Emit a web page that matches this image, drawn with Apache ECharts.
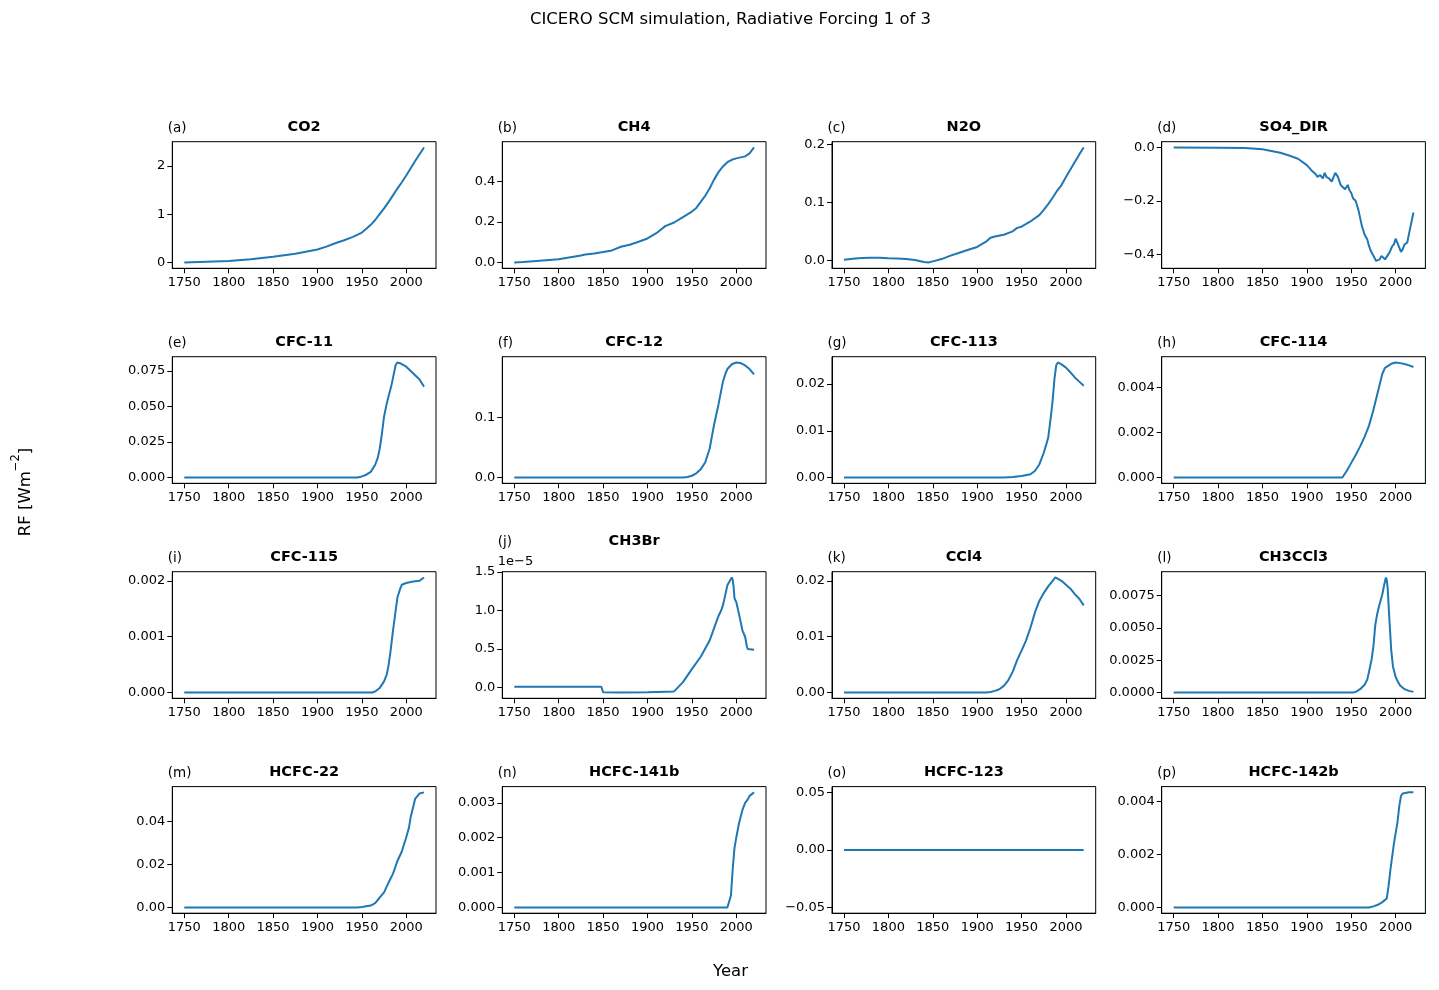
<!DOCTYPE html>
<html><head><meta charset="utf-8">
<script src="https://cdn.jsdelivr.net/npm/echarts@6/dist/echarts.min.js"></script>
<style>html,body{margin:0;padding:0;background:#fff}#c{width:1439px;height:990px}</style>
</head><body><div id="c"></div>
<script>
const SUPTITLE = 'CICERO SCM simulation, Radiative Forcing 1 of 3';
const X_TICKS = [1750, 1800, 1850, 1900, 1950, 2000];

const YEARS_CO2 = [1750,1775,1800,1825,1850,1875,1900,1910,1920,1930,1940,1950,1955,1960,1965,1970,1975,1980,1985,1990,1995,2000,2005,2010,2015,2020];
const RF_CO2 = [0,0.015,0.03,0.07,0.12,0.18,0.27,0.33,0.40,0.46,0.53,0.62,0.70,0.78,0.88,1.0,1.12,1.25,1.39,1.53,1.66,1.80,1.95,2.10,2.24,2.38];

const YEARS_CH4 = [1750,1760,1775,1800,1825,1830,1840,1850,1860,1870,1880,1890,1900,1910,1920,1930,1940,1950,1955,1960,1965,1970,1975,1980,1985,1990,1995,2000,2005,2010,2015,2020];
const RF_CH4 = [0,0.003,0.008,0.016,0.035,0.04,0.045,0.052,0.06,0.078,0.088,0.103,0.119,0.145,0.18,0.198,0.225,0.252,0.27,0.30,0.33,0.366,0.41,0.447,0.475,0.496,0.508,0.515,0.52,0.525,0.54,0.569];

const YEARS_N2O = [1750,1760,1770,1780,1790,1800,1810,1820,1830,1840,1845,1850,1860,1870,1880,1890,1900,1910,1915,1920,1930,1940,1945,1950,1960,1970,1975,1980,1985,1990,1995,2000,2005,2010,2015,2020];
const RF_N2O = [0.001,0.0025,0.004,0.0045,0.0045,0.0035,0.003,0.002,0.0005,-0.003,-0.004,-0.002,0.002,0.008,0.013,0.018,0.023,0.032,0.039,0.041,0.044,0.05,0.056,0.058,0.067,0.078,0.087,0.097,0.108,0.12,0.13,0.144,0.157,0.17,0.183,0.195];

const YEARS_SO4 = [1750,1800,1830,1850,1870,1880,1890,1900,1905,1910,1912,1915,1918,1920,1922,1925,1928,1932,1935,1938,1940,1943,1946,1948,1950,1952,1955,1958,1960,1962,1965,1968,1970,1972,1974,1976,1978,1980,1982,1984,1986,1988,1990,1993,1996,1998,2000,2002,2004,2006,2008,2010,2013,2015,2016,2018,2020];
const RF_SO4 = [0,-0.001,-0.002,-0.007,-0.02,-0.03,-0.042,-0.066,-0.085,-0.10,-0.11,-0.103,-0.116,-0.095,-0.11,-0.116,-0.128,-0.095,-0.11,-0.14,-0.147,-0.156,-0.14,-0.16,-0.17,-0.19,-0.20,-0.233,-0.263,-0.294,-0.325,-0.344,-0.368,-0.387,-0.399,-0.411,-0.424,-0.43,-0.418,-0.405,-0.411,-0.418,-0.415,-0.393,-0.37,-0.362,-0.341,-0.343,-0.373,-0.39,-0.38,-0.362,-0.356,-0.35,-0.307,-0.276,-0.243];

const YEARS_CFC11 = [1750,1945,1950,1955,1960,1965,1968,1970,1972,1975,1978,1980,1983,1985,1988,1990,1993,1995,2000,2005,2010,2015,2020];
const RF_CFC11 = [0,0,0.0008,0.002,0.004,0.009,0.014,0.02,0.028,0.043,0.052,0.057,0.064,0.07,0.079,0.081,0.0805,0.080,0.078,0.075,0.072,0.069,0.064];

const YEARS_CFC12 = [1750,1940,1945,1950,1955,1960,1965,1970,1975,1980,1985,1988,1990,1995,2000,2005,2010,2015,2020];
const RF_CFC12 = [0,0,0.001,0.003,0.007,0.014,0.025,0.048,0.088,0.122,0.16,0.174,0.181,0.189,0.192,0.191,0.187,0.181,0.172];

const YEARS_CFC113 = [1750,1930,1940,1950,1960,1965,1970,1975,1978,1980,1983,1985,1987,1989,1991,1993,1995,2000,2005,2010,2015,2020];
const RF_CFC113 = [0,0,0.00014,0.00035,0.0007,0.0014,0.0028,0.0053,0.0072,0.0085,0.013,0.0165,0.021,0.024,0.0246,0.0245,0.0242,0.0235,0.0225,0.0214,0.0205,0.0196];

const YEARS_CFC114 = [1750,1940,1942,1945,1950,1955,1960,1965,1970,1975,1980,1985,1988,1990,1995,2000,2005,2010,2015,2020];
const RF_CFC114 = [0,0,0.00007,0.0003,0.00065,0.001,0.00138,0.0018,0.0023,0.003,0.0038,0.0046,0.00486,0.0049,0.00504,0.0051,0.00507,0.00503,0.00497,0.0049];

const YEARS_CFC115 = [1750,1962,1965,1970,1975,1978,1980,1982,1985,1988,1990,1993,1995,2000,2005,2010,2015,2020];
const RF_CFC115 = [0,0,0.00002,0.00008,0.0002,0.00032,0.00048,0.0007,0.0011,0.00146,0.0017,0.00185,0.00193,0.00196,0.00198,0.00199,0.002,0.00206];

const YEARS_CH3BR = [1750,1848,1850,1870,1900,1930,1940,1950,1960,1970,1980,1983,1985,1988,1990,1992,1993,1994,1995,1996,1997,1998,2000,2003,2005,2007,2010,2012,2013,2015,2020];
const RF_CH3BR = [0.01e-5,0.01e-5,-0.06e-5,-0.065e-5,-0.062e-5,-0.05e-5,0.07e-5,0.24e-5,0.40e-5,0.61e-5,0.93e-5,1.0e-5,1.07e-5,1.22e-5,1.33e-5,1.37e-5,1.39e-5,1.38e-5,1.43e-5,1.40e-5,1.31e-5,1.16e-5,1.11e-5,0.96e-5,0.85e-5,0.74e-5,0.66e-5,0.53e-5,0.50e-5,0.50e-5,0.49e-5];

const YEARS_CCL4 = [1750,1910,1915,1920,1925,1930,1935,1940,1945,1950,1955,1960,1965,1970,1975,1980,1985,1988,1990,1995,2000,2005,2010,2015,2020];
const RF_CCL4 = [0,0,0.0001,0.0003,0.0006,0.0012,0.0022,0.0037,0.0058,0.0075,0.0093,0.0116,0.0143,0.0164,0.0178,0.019,0.02,0.0206,0.0205,0.02,0.0193,0.0186,0.0176,0.0168,0.0156];

const YEARS_CH3CCL3 = [1750,1952,1955,1960,1965,1968,1970,1973,1975,1977,1979,1981,1983,1985,1987,1989,1990,1991,1992,1993,1995,1997,2000,2003,2005,2010,2015,2020];
const RF_CH3CCL3 = [0,0,0.00005,0.00026,0.0006,0.001,0.0016,0.0026,0.0036,0.0052,0.006,0.0066,0.0071,0.0076,0.0083,0.0089,0.0087,0.0081,0.0068,0.0056,0.0033,0.002,0.0012,0.00077,0.00054,0.00026,0.00013,0.00005];

const YEARS_HCFC22 = [1750,1945,1950,1960,1965,1970,1975,1980,1985,1990,1995,2000,2003,2005,2008,2010,2013,2015,2020];
const RF_HCFC22 = [0,0,0.0002,0.0009,0.002,0.0046,0.007,0.0115,0.0156,0.0216,0.026,0.0326,0.037,0.042,0.047,0.0505,0.052,0.053,0.0535];

const YEARS_HCFC141B = [1750,1990,1992,1994,1996,1998,2000,2003,2005,2007,2010,2013,2015,2020];
const RF_HCFC141B = [0,0,0.00003,0.00034,0.0011,0.0017,0.002,0.0024,0.0026,0.0028,0.003,0.0031,0.0032,0.0033];

const YEARS_HCFC123 = [1750,1850,1950,2020];
const RF_HCFC123 = [0,0,0,0];

const YEARS_HCFC142B = [1750,1970,1975,1980,1985,1990,1992,1994,1996,1998,2000,2002,2004,2006,2008,2010,2015,2020];
const RF_HCFC142B = [0,0,0.00004,0.0001,0.0002,0.00034,0.0008,0.0014,0.0019,0.0024,0.0028,0.0032,0.0038,0.0042,0.0043,0.00434,0.00434,0.00434];

const NAMES = ['CO2','CH4','N2O','SO4_DIR','CFC-11','CFC-12','CFC-113','CFC-114','CFC-115','CH3Br','CCl4','CH3CCl3','HCFC-22','HCFC-141b','HCFC-123','HCFC-142b'];
const LETTERS = ['(a)','(b)','(c)','(d)','(e)','(f)','(g)','(h)','(i)','(j)','(k)','(l)','(m)','(n)','(o)','(p)'];
const YEAR_SETS = [YEARS_CO2,YEARS_CH4,YEARS_N2O,YEARS_SO4,YEARS_CFC11,YEARS_CFC12,YEARS_CFC113,YEARS_CFC114,YEARS_CFC115,YEARS_CH3BR,YEARS_CCL4,YEARS_CH3CCL3,YEARS_HCFC22,YEARS_HCFC141B,YEARS_HCFC123,YEARS_HCFC142B];
const VALUE_SETS = [RF_CO2,RF_CH4,RF_N2O,RF_SO4,RF_CFC11,RF_CFC12,RF_CFC113,RF_CFC114,RF_CFC115,RF_CH3BR,RF_CCL4,RF_CH3CCL3,RF_HCFC22,RF_HCFC141B,RF_HCFC123,RF_HCFC142B];
const Y_TICKS = [
  [0,1,2],[0,0.2,0.4],[0,0.1,0.2],[-0.4,-0.2,0],
  [0,0.025,0.05,0.075],[0,0.1],[0,0.01,0.02],[0,0.002,0.004],
  [0,0.001,0.002],[0,0.5e-5,1e-5,1.5e-5],[0,0.01,0.02],[0,0.0025,0.005,0.0075],
  [0,0.02,0.04],[0,0.001,0.002,0.003],[-0.05,0,0.05],[0,0.002,0.004]
];
const Y_DECIMALS = [0,1,1,1, 3,1,2,3, 3,1,2,4, 2,3,2,3];
const Y_SCALE = [1,1,1,1, 1,1,1,1, 1,1e-5,1,1, 1,1,1,1];

const FONT = 'DejaVu Sans';
const COL_LEFT = [172.3, 502.3, 832, 1161.7];
const ROW_TOP = [141.7, 356.7, 571.7, 786.6];
const W = 263.7, H = 126.6;

const grids = [], xAxes = [], yAxes = [], series = [], graphics = [];
for (let i = 0; i < 16; i++) {
  const r = Math.floor(i / 4), c = i % 4;
  const left = COL_LEFT[c], top = ROW_TOP[r];
  grids.push({left: left, top: top, width: W, height: H, show: true, borderColor: '#000', borderWidth: 1, containLabel: false, outerBoundsMode: 'none'});
  const ys = YEAR_SETS[i], vs = VALUE_SETS[i];
  const xmin = Math.min(...ys), xmax = Math.max(...ys), xs = xmax - xmin;
  xAxes.push({
    type: 'value', gridIndex: i, min: xmin - 0.05 * xs, max: xmax + 0.05 * xs,
    splitLine: {show: false},
    axisLine: {show: true, onZero: false, lineStyle: {color: '#000', width: 1}},
    axisTick: {show: true, customValues: X_TICKS, length: 5, lineStyle: {color: '#000', width: 1}},
    axisLabel: {customValues: X_TICKS, color: '#000', fontSize: 13, fontFamily: FONT, margin: 8, formatter: v => String(v)}
  });
  let vmin = Math.min(...vs), vmax = Math.max(...vs), span = vmax - vmin, lo, hi;
  if (span === 0) { lo = vmin - 0.055; hi = vmax + 0.055; } else { lo = vmin - 0.05 * span; hi = vmax + 0.05 * span; }
  const dec = Y_DECIMALS[i], sc = Y_SCALE[i];
  yAxes.push({
    type: 'value', gridIndex: i, min: lo, max: hi,
    splitLine: {show: false},
    axisLine: {show: true, onZero: false, lineStyle: {color: '#000', width: 1}},
    axisTick: {show: true, customValues: Y_TICKS[i], length: 5, lineStyle: {color: '#000', width: 1}},
    axisLabel: {customValues: Y_TICKS[i], color: '#000', fontSize: 13, fontFamily: FONT, margin: 7,
      formatter: v => { let s = (v / sc).toFixed(dec); if (Number(s) === 0) s = (0).toFixed(dec); return s.replace('-', '\u2212'); }}
  });
  series.push({
    type: 'line', xAxisIndex: i, yAxisIndex: i, showSymbol: false, animation: false,
    data: ys.map((y, k) => [y, vs[k]]),
    lineStyle: {color: '#1f77b4', width: 2}, itemStyle: {color: '#1f77b4'}
  });
  const lift = (i === 9) ? 30 : 14;
  graphics.push({type: 'text', x: left + W / 2, y: top - lift, style: {text: NAMES[i], font: 'bold 14.5px ' + FONT, fill: '#000', textAlign: 'center', textVerticalAlign: 'middle'}});
  graphics.push({type: 'text', x: left - 4.5, y: top - lift + 1, style: {text: LETTERS[i], font: '13.5px ' + FONT, fill: '#000', textAlign: 'left', textVerticalAlign: 'middle'}});
  if (i === 9) {
    graphics.push({type: 'text', x: left - 4.5, y: top - 10, style: {text: '1e\u22125', font: '13px ' + FONT, fill: '#000', textAlign: 'left', textVerticalAlign: 'middle'}});
  }
}
graphics.push({type: 'text', x: 730.5, y: 20, style: {text: SUPTITLE, font: '16.5px ' + FONT, fill: '#000', textAlign: 'center', textVerticalAlign: 'middle'}});
graphics.push({type: 'text', x: 730.5, y: 972, style: {text: 'Year', font: '16.5px ' + FONT, fill: '#000', textAlign: 'center', textVerticalAlign: 'middle'}});
graphics.push({type: 'text', x: 22, y: 492, rotation: Math.PI / 2, style: {
  text: '{a|RF [Wm}{b|\u22122}{a|]}', textAlign: 'center', textVerticalAlign: 'middle',
  rich: {a: {fontSize: 16.5, fontFamily: FONT, fill: '#000', color: '#000', lineHeight: 24, verticalAlign: 'bottom'},
         b: {fontSize: 11.5, fontFamily: FONT, fill: '#000', color: '#000', lineHeight: 24, verticalAlign: 'top'}}
}});

const chart = echarts.init(document.getElementById('c'), null, {renderer: 'canvas'});
chart.setOption({
  backgroundColor: '#fff', animation: false,
  grid: grids, xAxis: xAxes, yAxis: yAxes, series: series, graphic: graphics
});
</script></body></html>
